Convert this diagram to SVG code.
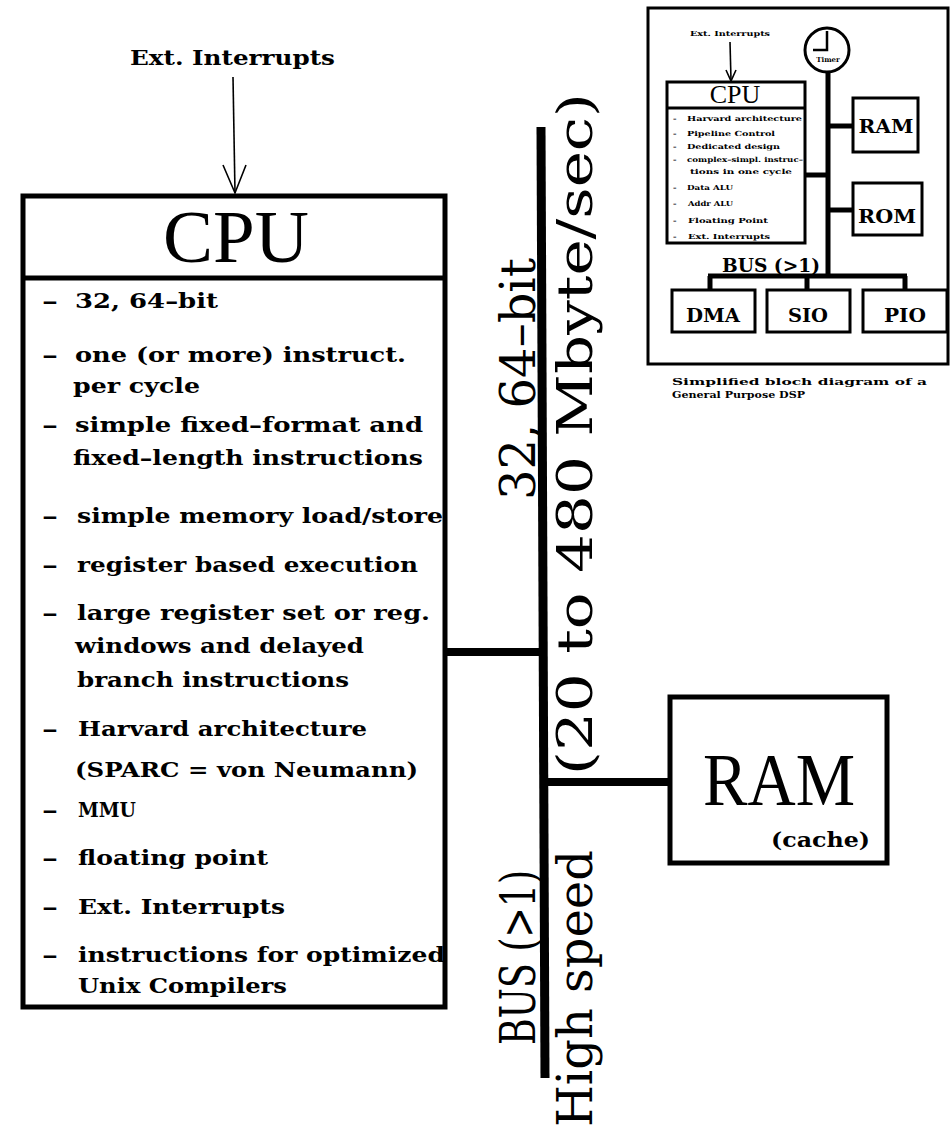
<svg xmlns="http://www.w3.org/2000/svg" width="952" height="1132" viewBox="0 0 952 1132">
<style>
.bg{fill:#fff}
.box{fill:none;stroke:#000;stroke-width:5}
.thin{fill:none;stroke:#000;stroke-width:1.6}
.bus{fill:none;stroke:#000;stroke-width:9;stroke-linecap:butt}
.conn{fill:none;stroke:#000;stroke-width:8}
.sbox{fill:none;stroke:#000;stroke-width:3}
.sbus{fill:none;stroke:#000;stroke-width:5}
.item{font-family:"DejaVu Serif","Liberation Serif",serif;font-weight:bold;font-size:21px;fill:#000}
.big{font-family:"Liberation Serif",serif;font-size:75px;fill:#000}
.buslbl{font-family:"DejaVu Serif","Liberation Serif",serif;font-size:48px;fill:#000}
.sitem{font-family:"DejaVu Serif","Liberation Serif",serif;font-weight:bold;font-size:7px;fill:#000}
.slbl{font-family:"DejaVu Serif","Liberation Serif",serif;font-weight:bold;font-size:19px;fill:#000}
.cap{font-family:"DejaVu Serif","Liberation Serif",serif;font-weight:bold;font-size:10px;fill:#000}
</style>
<rect class="bg" x="0" y="0" width="952" height="1132"/>

<g id="ext-interrupts">
<text class="item" x="130" y="65" textLength="205" lengthAdjust="spacingAndGlyphs">Ext. Interrupts</text>
</g>

<g id="cpu">
<rect class="box" x="23" y="196" width="422" height="811"/>
<line class="box" x1="23" y1="278" x2="445" y2="278"/>
<text class="big" x="236" y="262" text-anchor="middle">CPU</text>
<text class="item" y="308"><tspan x="42" textLength="27" lengthAdjust="spacingAndGlyphs">– </tspan><tspan x="75" textLength="143" lengthAdjust="spacingAndGlyphs">32, 64–bit</tspan></text>
<text class="item" y="362"><tspan x="42" textLength="27" lengthAdjust="spacingAndGlyphs">– </tspan><tspan x="75" textLength="331" lengthAdjust="spacingAndGlyphs">one (or more) instruct.</tspan></text>
<text class="item" x="73" y="393" textLength="127" lengthAdjust="spacingAndGlyphs">per cycle</text>
<text class="item" y="432"><tspan x="42" textLength="27" lengthAdjust="spacingAndGlyphs">– </tspan><tspan x="75" textLength="348" lengthAdjust="spacingAndGlyphs">simple fixed–format and</tspan></text>
<text class="item" x="73" y="465" textLength="350" lengthAdjust="spacingAndGlyphs">fixed–length instructions</text>
<text class="item" y="523"><tspan x="42" textLength="27" lengthAdjust="spacingAndGlyphs">– </tspan><tspan x="77" textLength="366" lengthAdjust="spacingAndGlyphs">simple memory load/store</tspan></text>
<text class="item" y="572"><tspan x="42" textLength="27" lengthAdjust="spacingAndGlyphs">– </tspan><tspan x="77" textLength="341" lengthAdjust="spacingAndGlyphs">register based execution</tspan></text>
<text class="item" y="620"><tspan x="42" textLength="27" lengthAdjust="spacingAndGlyphs">– </tspan><tspan x="77" textLength="353" lengthAdjust="spacingAndGlyphs">large register set or reg.</tspan></text>
<text class="item" x="75" y="653" textLength="289" lengthAdjust="spacingAndGlyphs">windows and delayed</text>
<text class="item" x="77" y="687" textLength="272" lengthAdjust="spacingAndGlyphs">branch instructions</text>
<text class="item" y="736"><tspan x="42" textLength="27" lengthAdjust="spacingAndGlyphs">– </tspan><tspan x="78" textLength="289" lengthAdjust="spacingAndGlyphs">Harvard architecture</tspan></text>
<text class="item" x="75" y="777" textLength="343" lengthAdjust="spacingAndGlyphs">(SPARC = von Neumann)</text>
<text class="item" y="817"><tspan x="42" textLength="27" lengthAdjust="spacingAndGlyphs">– </tspan><tspan x="78" textLength="58" lengthAdjust="spacingAndGlyphs">MMU</tspan></text>
<text class="item" y="865"><tspan x="42" textLength="27" lengthAdjust="spacingAndGlyphs">– </tspan><tspan x="78" textLength="190" lengthAdjust="spacingAndGlyphs">floating point</tspan></text>
<text class="item" y="914"><tspan x="42" textLength="27" lengthAdjust="spacingAndGlyphs">– </tspan><tspan x="78" textLength="207" lengthAdjust="spacingAndGlyphs">Ext. Interrupts</tspan></text>
<text class="item" y="962"><tspan x="42" textLength="27" lengthAdjust="spacingAndGlyphs">– </tspan><tspan x="78" textLength="367" lengthAdjust="spacingAndGlyphs">instructions for optimized</tspan></text>
<text class="item" x="78" y="993" textLength="209" lengthAdjust="spacingAndGlyphs">Unix Compilers</text>
</g>

<g id="ram">
<rect class="box" x="670" y="697" width="217" height="166"/>
<text class="big" x="703" y="805" font-size="70" textLength="152" lengthAdjust="spacingAndGlyphs">RAM</text>
<text class="item" x="771" y="847" font-size="19" textLength="99" lengthAdjust="spacingAndGlyphs">(cache)</text>
</g>

<g id="bus-labels">
<text class="buslbl" transform="translate(535,1045) rotate(-90)" textLength="175" lengthAdjust="spacingAndGlyphs">BUS (&gt;1)</text>
<text class="buslbl" transform="translate(535,500) rotate(-90)" textLength="242" lengthAdjust="spacingAndGlyphs">32, 64–bit</text>
<text class="buslbl" transform="translate(592,1127) rotate(-90)" textLength="277" lengthAdjust="spacingAndGlyphs">High speed</text>
<text class="buslbl" transform="translate(592,775) rotate(-90)" textLength="682" lengthAdjust="spacingAndGlyphs">(20 to 480 Mbyte/sec)</text>
</g>

<g id="connectors">
<line class="thin" x1="233" y1="77" x2="235" y2="193"/>
<polyline class="thin" points="223,165 235,193 246,165"/>
<line class="bus" x1="541" y1="127" x2="545" y2="1078"/>
<line class="conn" x1="445" y1="652" x2="543" y2="652" stroke-width="9"/>
<line class="conn" x1="545" y1="782" x2="670" y2="782"/>
</g>

<g id="inset">
<rect class="sbox" x="648" y="8" width="300" height="356"/>
<text class="sitem" x="730" y="36" text-anchor="middle" textLength="80" lengthAdjust="spacingAndGlyphs">Ext. Interrupts</text>
<line class="thin" x1="730" y1="42" x2="731" y2="80"/>
<polyline class="thin" points="726,70 731,81 736,70"/>
<g id="inset-cpu">
<rect class="sbox" x="667" y="82" width="138" height="161" stroke-width="2"/>
<line class="sbox" x1="667" y1="108" x2="805" y2="108" stroke-width="2"/>
<text x="735" y="103" text-anchor="middle" font-family="Liberation Serif, serif" font-size="26" fill="#000">CPU</text>
<text class="sitem" y="121"><tspan x="673">– </tspan><tspan x="687" textLength="115" lengthAdjust="spacingAndGlyphs">Harvard architecture</tspan></text>
<text class="sitem" y="136"><tspan x="673">– </tspan><tspan x="687" textLength="88" lengthAdjust="spacingAndGlyphs">Pipeline Control</tspan></text>
<text class="sitem" y="149"><tspan x="673">– </tspan><tspan x="687" textLength="93" lengthAdjust="spacingAndGlyphs">Dedicated design</tspan></text>
<text class="sitem" y="162"><tspan x="673">– </tspan><tspan x="687" textLength="116" lengthAdjust="spacingAndGlyphs">complex–simpl. instruc–</tspan></text>
<text class="sitem" x="690" y="174" textLength="102" lengthAdjust="spacingAndGlyphs">tions in one cycle</text>
<text class="sitem" y="190"><tspan x="673">– </tspan><tspan x="687" textLength="46" lengthAdjust="spacingAndGlyphs">Data ALU</tspan></text>
<text class="sitem" y="206"><tspan x="673">– </tspan><tspan x="688" textLength="45" lengthAdjust="spacingAndGlyphs">Addr ALU</tspan></text>
<text class="sitem" y="223"><tspan x="673">– </tspan><tspan x="688" textLength="80" lengthAdjust="spacingAndGlyphs">Floating Point</tspan></text>
<text class="sitem" y="239"><tspan x="673">– </tspan><tspan x="688" textLength="82" lengthAdjust="spacingAndGlyphs">Ext. Interrupts</tspan></text>
</g>
<g id="inset-timer">
<circle cx="827" cy="50" r="22" fill="none" stroke="#000" stroke-width="3"/>
<polyline fill="none" stroke="#000" stroke-width="2.5" points="827,31 827,50 813,50"/>
<text class="sitem" x="828" y="62" text-anchor="middle" font-size="6">Timer</text>
</g>
<g id="inset-ram">
<rect class="sbox" x="853" y="98" width="65" height="54"/>
<text class="slbl" x="886" y="133" text-anchor="middle" textLength="55" lengthAdjust="spacingAndGlyphs">RAM</text>
</g>
<g id="inset-rom">
<rect class="sbox" x="853" y="183" width="69" height="52"/>
<text class="slbl" x="887" y="223" text-anchor="middle" textLength="58" lengthAdjust="spacingAndGlyphs">ROM</text>
</g>
<g id="inset-dma">
<rect class="sbox" x="672" y="290" width="83" height="42"/>
<text class="slbl" x="713" y="322" text-anchor="middle" textLength="54" lengthAdjust="spacingAndGlyphs">DMA</text>
</g>
<g id="inset-sio">
<rect class="sbox" x="767" y="290" width="83" height="42"/>
<text class="slbl" x="808" y="322" text-anchor="middle" textLength="40" lengthAdjust="spacingAndGlyphs">SIO</text>
</g>
<g id="inset-pio">
<rect class="sbox" x="863" y="290" width="84" height="42"/>
<text class="slbl" x="905" y="322" text-anchor="middle" textLength="42" lengthAdjust="spacingAndGlyphs">PIO</text>
</g>
<text class="slbl" x="722" y="272" font-size="14" textLength="98" lengthAdjust="spacingAndGlyphs">BUS (&gt;1)</text>
<g id="inset-connectors">
<line class="sbus" x1="828" y1="72" x2="828" y2="276"/>
<line class="sbus" x1="828" y1="126" x2="853" y2="126" stroke-width="4"/>
<line class="sbus" x1="828" y1="210" x2="853" y2="210" stroke-width="4"/>
<line class="sbus" x1="805" y1="175" x2="828" y2="175" stroke-width="3"/>
<line class="sbus" x1="708" y1="276" x2="907" y2="276" stroke-width="4"/>
<line class="sbus" x1="710" y1="276" x2="710" y2="290" stroke-width="4"/>
<line class="sbus" x1="807" y1="276" x2="807" y2="290" stroke-width="4"/>
<line class="sbus" x1="905" y1="276" x2="905" y2="290" stroke-width="4"/>
</g>
<text class="cap" x="672" y="385" textLength="255" lengthAdjust="spacingAndGlyphs">Simplified bloch diagram of a</text>
<text class="cap" x="672" y="398" textLength="133" lengthAdjust="spacingAndGlyphs">General Purpose DSP</text>
</g>
</svg>
